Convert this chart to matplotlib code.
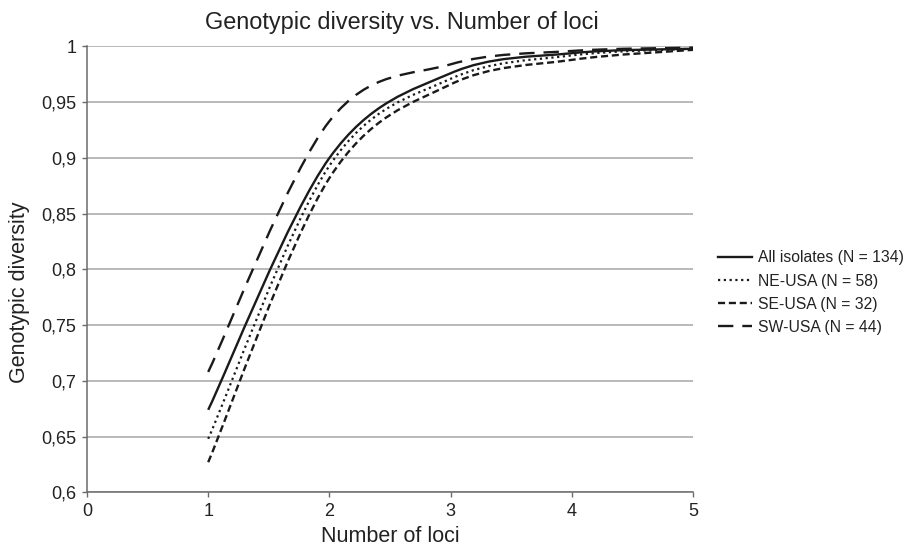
"""
Genotypic diversity vs. number of loci, Excel-style smoothed lines.
Writes out.png
"""
import numpy as np
import matplotlib
matplotlib.use("Agg")
import matplotlib.pyplot as plt
from matplotlib.path import Path
from matplotlib.patches import PathPatch
from matplotlib.lines import Line2D

plt.rcParams["font.family"] = ["Liberation Sans", "DejaVu Sans"]

loci = [1, 2, 3, 4, 5]
all_isolates = [0.674, 0.900, 0.976, 0.994, 0.998]
ne_usa = [0.648, 0.893, 0.971, 0.992, 0.998]
se_usa = [0.627, 0.882, 0.966, 0.988, 0.997]
sw_usa = [0.708, 0.933, 0.984, 0.996, 0.999]

series_names = ["All isolates (N = 134)", "NE-USA (N = 58)",
                "SE-USA (N = 32)", "SW-USA (N = 44)"]
y_ticks = [0.6, 0.65, 0.7, 0.75, 0.8, 0.85, 0.9, 0.95, 1.0]
y_labels = ["0,6", "0,65", "0,7", "0,75", "0,8", "0,85", "0,9", "0,95", "1"]
x_ticks = [0, 1, 2, 3, 4, 5]

TXT = "#222222"


def smooth_path(xs, ys):
    # bezier through the points, same idea as Excel's "smoothed line"
    pts = np.column_stack([xs, ys]).astype(float)
    n = len(pts)
    verts = [pts[0]]
    codes = [Path.MOVETO]
    for i in range(n - 1):
        p0 = pts[max(i - 1, 0)]
        p1 = pts[i]
        p2 = pts[i + 1]
        p3 = pts[min(i + 2, n - 1)]
        c1 = p1 + (p2 - p0) / 6.0
        c2 = p2 - (p3 - p1) / 6.0
        verts += [c1, c2, p2]
        codes += [Path.CURVE4] * 3
    return Path(verts, codes)


fig = plt.figure(figsize=(9.06, 5.47), dpi=100)
ax = fig.add_axes([0.096, 0.100, 0.669, 0.815])

styles = [
    dict(linestyle="-", linewidth=1.7),
    dict(linestyle=(0, (1, 1.6)), linewidth=1.6),
    dict(linestyle=(0, (3, 1.6)), linewidth=1.7),
    dict(linestyle=(0, (6.5, 3.8)), linewidth=1.7),
]
data = [all_isolates, ne_usa, se_usa, sw_usa]

handles = []
for ys, st, name in zip(data, styles, series_names):
    patch = PathPatch(smooth_path(loci, ys), fill=False, edgecolor="#1a1a1a",
                      capstyle="butt", zorder=3, **st)
    ax.add_patch(patch)
    handles.append(Line2D([], [], color="#1a1a1a", **st))

ax.set_xlim(0, 5)
ax.set_ylim(0.6, 1.0)
ax.set_xticks(x_ticks)
ax.set_yticks(y_ticks)
ax.set_yticklabels(y_labels)
ax.yaxis.grid(True, color="#a6a6a6", linewidth=1.1)
ax.set_axisbelow(True)

for side in ["top", "right"]:
    ax.spines[side].set_visible(False)
for side in ["left", "bottom"]:
    ax.spines[side].set_color("#6b6b6b")
    ax.spines[side].set_linewidth(1.1)
ax.tick_params(axis="both", direction="out", length=3.5, width=1,
               color="#6b6b6b", labelsize=13, labelcolor=TXT, pad=4)

fig.text(402 / 906, 1 - 22 / 547,
         "Genotypic diversity vs. Number of loci", fontsize=16.9,
         color=TXT, ha="center", va="center")
fig.text(0.5 * (0.096 + 0.765), 1 - 537 / 547, "Number of loci",
         fontsize=15.5, color=TXT, ha="center", va="center")
fig.text(20 / 906, 1 - 292 / 547, "Genotypic diversity", fontsize=15.5,
         color=TXT, ha="center", va="center", rotation=90)

fig.legend(handles=handles, labels=series_names, loc="center left",
           bbox_to_anchor=(0.7765, 0.465), frameon=False, fontsize=11.3,
           handlelength=2.2, handletextpad=0.36, labelspacing=0.52,
           labelcolor=TXT)

fig.savefig("out.png", dpi=100)
